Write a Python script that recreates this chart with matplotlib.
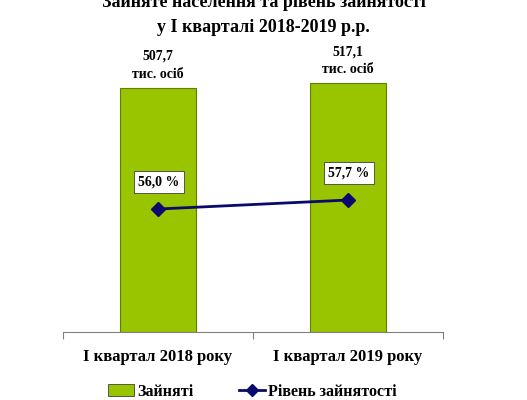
import matplotlib.pyplot as plt
import numpy as np
from matplotlib.lines import Line2D
from matplotlib.patches import Patch

categories = ["І квартал 2018 року", "І квартал 2019 року"]
employed = [507.7, 517.1]            # тис. осіб
employed_labels = ["507,7\nтис. осіб", "517,1\nтис. осіб"]
rate = [56.0, 57.7]                  # %
rate_labels = ["56,0 %", "57,7 %"]

plt.rcParams.update({
    "font.family": ["Liberation Serif", "DejaVu Serif"],
    "font.weight": "bold",
})

GREEN = "#99C400"
NAVY = "#0A0A6E"

fig = plt.figure(figsize=(5.27, 4.0), dpi=100)
ax = fig.add_axes([0.1195, 0.17, 0.721, 0.72])

x = np.arange(len(categories))
ax.bar(x, employed, width=0.4, color=GREEN, edgecolor="#5E7F00", linewidth=0.8, zorder=2)
ax.set_xlim(-0.5, 1.5)
ax.set_ylim(0, 599)
ax.set_yticks([])
for s in ("left", "right", "top"):
    ax.spines[s].set_visible(False)
ax.spines["bottom"].set_color("#808080")
ax.set_xticks([-0.5, 0.5, 1.5])
ax.set_xticklabels([])
ax.tick_params(axis="x", direction="out", length=5, color="#808080")
ax.set_xticks(x, minor=True)
ax.set_xticklabels(categories, minor=True, fontsize=12, fontweight="bold")
ax.tick_params(axis="x", which="minor", length=0, pad=12)

for xi, v, lab in zip(x, employed, employed_labels):
    ax.annotate(lab, (xi, v), xytext=(0, 7), textcoords="offset pixels",
                ha="center", va="bottom", fontsize=10, fontweight="bold",
                linespacing=1.5)

ax2 = ax.twinx()
ax2.set_ylim(32.75, 87.2)
ax2.set_yticks([])
for s in ax2.spines.values():
    s.set_visible(False)
ax2.plot(x, rate, color=NAVY, linewidth=2, marker="D", markersize=7,
         markerfacecolor=NAVY, markeredgecolor=NAVY, zorder=3)
for xi, v, lab in zip(x, rate, rate_labels):
    ax2.annotate(lab, (xi, v), xytext=(1, 27), textcoords="offset pixels",
                 ha="center", va="center", fontsize=10, fontweight="bold",
                 bbox=dict(boxstyle="square,pad=0.3", fc="white", ec="#404040", lw=0.6))

fig.text(0.5, 0.994, "Зайняте населення та рівень зайнятості",
         ha="center", va="center", fontsize=13, fontweight="bold")
fig.text(0.5, 0.932, "у І кварталі 2018-2019 р.р.",
         ha="center", va="center", fontsize=13, fontweight="bold")

handles = [Patch(facecolor=GREEN, edgecolor="#404040", linewidth=0.6),
           Line2D([0], [0], color=NAVY, lw=2, marker="D", markersize=6)]
fig.legend(handles, ["Зайняті", "Рівень зайнятості"], loc="lower center",
           bbox_to_anchor=(0.479, -0.035), ncol=2, frameon=False,
           prop=dict(size=11.5, weight="bold"), columnspacing=2.9,
           handlelength=1.6, handletextpad=0.2)

fig.savefig("out.png", dpi=100)
